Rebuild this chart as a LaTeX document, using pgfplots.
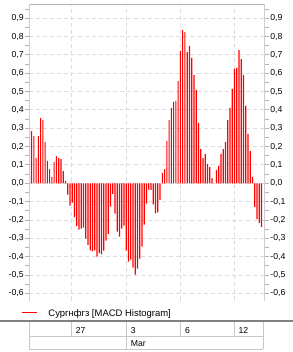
\documentclass[border=0pt]{standalone}
\usepackage{pgfplots}
\usepackage{pgfplotstable}
\pgfplotsset{compat=1.18}
\usepackage{fontspec}
\setmainfont{Liberation Sans}
\definecolor{gridc}{HTML}{DCDCDC}
\definecolor{axc}{HTML}{B4B4B4}
\definecolor{sepc}{HTML}{808080}
\definecolor{tabc}{HTML}{C8C8C8}

\pgfplotstableread{
i v
0 0.285
1 0.258
2 0.138
3 0.258
4 0.356
5 0.345
6 0.225
7 0.122
8 0.078
9 0.035
10 0.116
11 0.149
12 0.138
13 0.133
14 0.067
15 0.013
16 -0.062
17 -0.122
18 -0.105
19 -0.184
20 -0.233
21 -0.253
22 -0.247
23 -0.242
24 -0.302
25 -0.335
26 -0.365
27 -0.371
28 -0.365
29 -0.400
30 -0.380
31 -0.387
32 -0.367
33 -0.313
34 -0.275
35 -0.127
36 -0.058
37 -0.165
38 -0.264
39 -0.291
40 -0.247
41 -0.231
42 -0.367
43 -0.427
44 -0.416
45 -0.460
46 -0.498
47 -0.465
48 -0.411
49 -0.345
50 -0.225
51 -0.111
52 -0.035
53 -0.036
54 -0.115
55 -0.164
56 -0.158
57 -0.091
58 0.055
59 0.078
60 0.230
61 0.345
62 0.410
63 0.444
64 0.449
65 0.558
66 0.722
67 0.836
68 0.825
69 0.716
70 0.749
71 0.684
72 0.590
73 0.510
74 0.330
75 0.187
76 0.138
77 0.160
78 0.105
79 0.089
80 0.029
81 0.000
82 0.073
83 0.095
84 0.160
85 0.187
86 0.225
87 0.345
88 0.411
89 0.515
90 0.624
91 0.629
92 0.727
93 0.678
94 0.591
95 0.422
96 0.269
97 0.176
98 0.035
99 -0.129
100 -0.195
101 -0.216
102 -0.238
}\histdata

\pgfplotsset{
  common/.style={
    at={(29.3bp,51.5bp)}, anchor=south west,
    scale only axis, width=235.4bp, height=295.5bp,
    xmin=-1.02, xmax=103.4, ymin=-0.639, ymax=0.9726,
    axis line style={draw=none},
    ytick={-0.6,-0.5,-0.4,-0.3,-0.2,-0.1,0,0.1,0.2,0.3,0.4,0.5,0.6,0.7,0.8,0.9},
    minor ytick={-0.55,-0.45,-0.35,-0.25,-0.15,-0.05,0.05,0.15,0.25,0.35,0.45,0.55,0.65,0.75,0.85,0.95},
    tick align=outside, major tick length=4bp, minor tick length=4bp,
    ytick style={axc, line width=1bp},
    minor tick style={axc, line width=1bp},
    yticklabel style={font=\fontsize{8.7}{10}\selectfont, inner sep=1.5bp,
      /pgf/number format/.cd, fixed, fixed zerofill, precision=1, use comma, assume math mode=true},
  }
}

\begin{document}
\begin{tikzpicture}
\useasboundingbox (0bp,0bp) rectangle (293bp,352bp);
\begin{axis}[common,
  xtick={17.6,42.0,65.9,90.2}, xticklabels={}, xtick style={draw=none},
  xmajorgrids, ymajorgrids,
  grid style={gridc, dash pattern=on 4bp off 3bp, line width=1bp},
  ytick pos=left,
]
\addplot[ybar, bar width=1.2bp, bar shift=0pt, fill=red, draw=none] table[x=i,y=v]{\histdata};
\draw[axc, line width=1bp] (rel axis cs:0,0) -- (rel axis cs:0,1) -- (rel axis cs:1,1) -- (rel axis cs:1,0);
\end{axis}
\begin{axis}[common,
  xtick=\empty, ytick pos=right, yticklabel pos=right,
]
\end{axis}
\begin{scope}[x=1bp,y=1bp]
% legend
\draw[red, line width=1bp] (22,39.7) -- (37,39.7);
\node[anchor=base west, inner sep=0] at (48.3,36) {\fontsize{9.5}{10}\selectfont Сургнфгз [MACD Histogram]};
% separator
\draw[sepc, line width=1.5bp] (0,31) -- (293,31);
% date table
\begin{scope}[tabc, line width=1bp]
\draw (29.3,15.3) -- (263.3,15.3);
\draw (29.3,2.7) -- (263.3,2.7);
\draw (29.3,30) -- (29.3,2.7);
\draw (263.3,30) -- (263.3,2.7);
\draw (71,30) -- (71,15.3);
\draw (126,30) -- (126,2.7);
\draw (180,30) -- (180,15.3);
\draw (234.3,30) -- (234.3,15.3);
\end{scope}
\begin{scope}[every node/.style={anchor=base west, inner sep=0, font=\fontsize{8.7}{10}\selectfont}]
\node at (75.7,19) {27};
\node at (130.7,19) {3};
\node at (185,19) {6};
\node at (238.3,19) {12};
\node at (130.7,6) {Mar};
\end{scope}
\end{scope}
\end{tikzpicture}
\end{document}
